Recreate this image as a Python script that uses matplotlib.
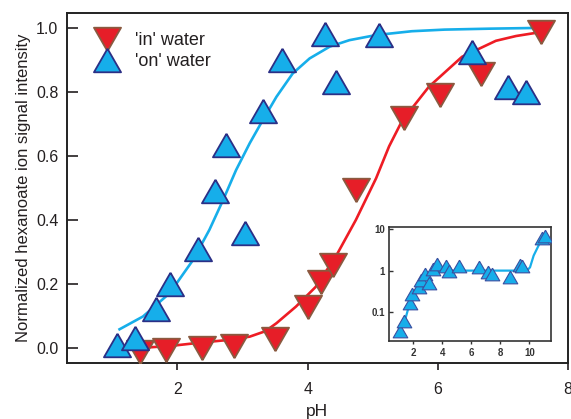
import matplotlib
matplotlib.use("Agg")
import matplotlib.pyplot as plt

plt.rcParams['font.family'] = ['Liberation Sans', 'DejaVu Sans']

# 'on' water points (up triangles)
ph_on = [1.07, 1.34, 1.67, 1.88, 2.31, 2.58, 2.75, 3.03, 3.31, 3.60, 4.26, 4.44, 5.09, 6.52, 7.07, 7.36]
sig_on = [0.01, 0.03, 0.12, 0.20, 0.31, 0.49, 0.634, 0.36, 0.74, 0.90, 0.982, 0.83, 0.978, 0.925, 0.816, 0.80]

# 'in' water points (down triangles)
ph_in = [1.43, 1.82, 2.37, 2.87, 3.50, 4.01, 4.21, 4.39, 4.74, 5.48, 6.03, 6.66, 7.59]
sig_in = [-0.013, -0.006, 0.0, 0.006, 0.028, 0.128, 0.206, 0.26, 0.494, 0.72, 0.79, 0.857, 0.988]

# fitted curves
fit_on_x = [1.11, 1.47, 1.88, 2.24, 2.49, 2.70, 2.90, 3.11, 3.31, 3.52, 3.77, 4.03, 4.34, 4.64, 5.05, 5.6, 6.1, 6.8, 7.44]
fit_on_y = [0.058, 0.098, 0.171, 0.275, 0.369, 0.462, 0.556, 0.64, 0.712, 0.785, 0.858, 0.905, 0.942, 0.962, 0.978, 0.99, 0.995, 0.998, 1.0]

fit_in_x = [1.46, 1.9, 2.34, 2.8, 3.11, 3.35, 3.52, 3.82, 4.12, 4.43, 4.74, 5.05, 5.25, 5.45, 5.86, 6.37, 6.89, 7.2, 7.6]
fit_in_y = [0.0, 0.006, 0.016, 0.025, 0.035, 0.052, 0.077, 0.129, 0.19, 0.285, 0.40, 0.53, 0.63, 0.71, 0.816, 0.91, 0.96, 0.975, 0.988]

# inset (log scale)
ins_ph = [1.10, 1.38, 1.74, 1.91, 2.41, 2.53, 2.78, 3.06, 3.33, 3.63, 4.28, 4.48, 5.12, 6.50, 7.12, 7.43, 8.64, 9.33, 9.49, 10.88, 11.06]
ins_sig = [0.035, 0.06, 0.17, 0.28, 0.41, 0.59, 0.81, 0.49, 1.1, 1.45, 1.3, 1.0, 1.27, 1.2, 0.91, 0.83, 0.70, 1.38, 1.26, 6.0, 6.9]
ins_fit_x = [1.10, 1.45, 1.79, 2.14, 2.48, 3.17, 3.86, 4.5, 9.0, 9.84, 10.05, 10.3, 10.76, 11.1]
ins_fit_y = [0.037, 0.07, 0.19, 0.34, 0.49, 0.85, 0.97, 1.0, 1.0, 1.0, 1.2, 2.3, 4.9, 6.9]

blue = '#16AEEA'
blue_edge = '#2B2F86'
red = '#E61E28'
red_edge = '#8A5A40'
text_col = '#231F20'

tri_up = [(0, 0.87), (-1, -0.87), (1, -0.87), (0, 0.87)]
tri_down = [(0, -0.87), (-1, 0.87), (1, 0.87), (0, -0.87)]

fig = plt.figure(figsize=(5.71, 4.19), dpi=100)
ax = fig.add_axes([0.117, 0.134, 0.878, 0.835])

ax.plot(fit_on_x, fit_on_y, color=blue, lw=1.9, zorder=2)
ax.plot(fit_in_x, fit_in_y, color='#EE1C24', lw=1.9, zorder=2)
ax.plot(ph_in, sig_in, ls='none', marker=tri_down, ms=19.5, mfc=red, mec=red_edge,
        mew=1.3, label="'in' water", zorder=3)
ax.plot(ph_on, sig_on, ls='none', marker=tri_up, ms=19.5, mfc=blue, mec=blue_edge,
        mew=1.3, label="'on' water", zorder=4)

ax.set_xlim(0.3, 8)
ax.set_ylim(-0.047, 1.047)
ax.set_xticks([2, 4, 6, 8])
ax.set_yticks([0.0, 0.2, 0.4, 0.6, 0.8, 1.0])
ax.set_yticklabels(['0.0', '0.2', '0.4', '0.6', '0.8', '1.0'])
ax.tick_params(axis='y', direction='in', length=8, width=1.2, labelsize=11.5, colors=text_col, pad=6)
ax.tick_params(axis='x', direction='out', length=5, width=1.2, labelsize=11.5, colors=text_col, pad=9)
for s in ax.spines.values():
    s.set_linewidth(1.4)
    s.set_color('#222222')

ax.set_xlabel('pH', fontsize=12.5, color=text_col, labelpad=5)
ax.set_ylabel('Normalized hexanoate ion signal intensity', fontsize=12, color=text_col, labelpad=4)

leg = ax.legend(loc='upper left', bbox_to_anchor=(0.062, 0.945), frameon=False,
                fontsize=13, handlelength=1.0, handletextpad=1.05, labelspacing=0.2,
                borderpad=0, borderaxespad=0)
for t in leg.get_texts():
    t.set_color(text_col)

# inset
ins = fig.add_axes([0.681, 0.186, 0.284, 0.272])
ins.plot(ins_fit_x, ins_fit_y, color=blue, lw=1.6, zorder=2)
ins.plot(ins_ph, ins_sig, ls='none', marker=tri_up, ms=10.5, mfc=blue, mec='#3A4FA0',
         mew=0.8, zorder=3)
ins.set_yscale('log')
ins.set_xlim(0.3, 11.5)
ins.set_ylim(0.02, 11.2)
ins.set_xticks([2, 4, 6, 8, 10])
ins.set_yticks([0.1, 1, 10])
ins.set_yticklabels(['0.1', '1', '10'])
ins.minorticks_off()
ins.tick_params(axis='y', direction='in', length=3, width=1, labelsize=7, colors='#333333', pad=3)
ins.tick_params(axis='x', direction='out', length=2, width=1, labelsize=7, colors='#333333', pad=3)
for t in ins.get_xticklabels() + ins.get_yticklabels():
    t.set_fontweight('bold')
for s in ins.spines.values():
    s.set_linewidth(1.2)
    s.set_color('#333333')

fig.savefig('out.png', dpi=100)
